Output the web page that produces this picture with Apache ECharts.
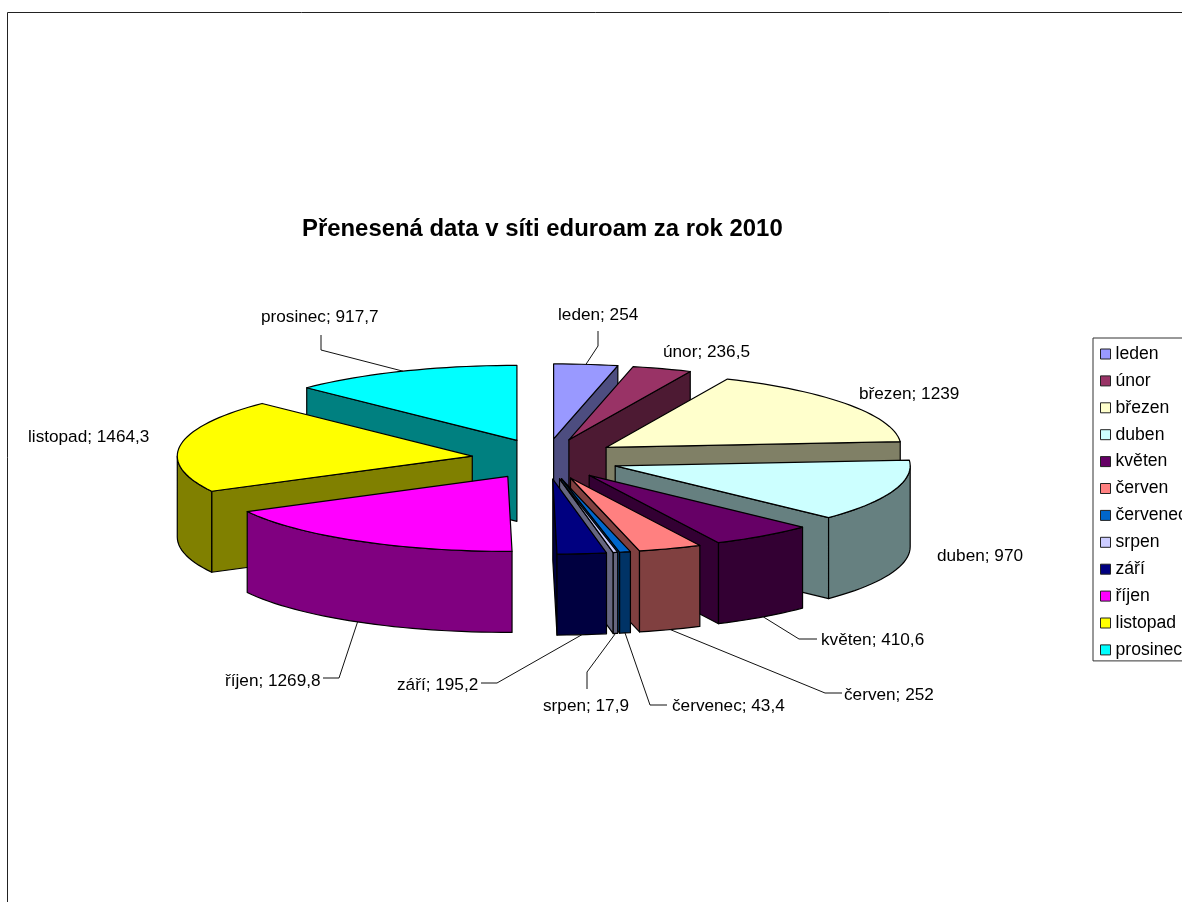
<!DOCTYPE html>
<html><head><meta charset="utf-8">
<style>html,body{margin:0;padding:0;background:#fff;overflow:hidden}#c{width:1182px;height:902px}</style>
<script src="https://cdn.jsdelivr.net/npm/echarts@6/dist/echarts.min.js"></script>
</head><body><div id="c"></div>
<script>
const months = ['leden','únor','březen','duben','květen','červen','červenec','srpen','září','říjen','listopad','prosinec'];
const values = [254,236.5,1239,970,410.6,252,43.4,17.9,195.2,1269.8,1464.3,917.7];
const valueTexts = ['254','236,5','1239','970','410,6','252','43,4','17,9','195,2','1269,8','1464,3','917,7'];
const topColors = ['#9999FF','#993366','#FFFFCC','#CCFFFF','#660066','#FF8080','#0066CC','#CCCCFF','#000080','#FF00FF','#FFFF00','#00FFFF'];
const sideColors = ['#4D4D80','#4D1A33','#808066','#668080','#330033','#804040','#003366','#666680','#000040','#800080','#808000','#008080'];
// label placement: text left/vertical centre, and leader elbow points (null = no leader)
const labelAt = [[558,315],[663,352],[859,394],[937,556],[821,640],[844,695],[672,706],[543,706],[397,685],[225,681],[28,437],[261,317]];
const leaderVia = [[[598,346],[598,331]],null,null,null,[[799,639],[817,639]],[[825,693],[842,693]],[[650,705],[667,705]],[[587,672],[587,689]],[[497,683],[481,683]],[[339,678],[323,678]],null,[[321,350],[321,335]]];

const CX=545.5, CY=459, RX=295, RY=75, H=81, EXPLODE=74, EXPLODE_Y=20.2;
const total = values.reduce((a,b)=>a+b,0);
const rad = d=>d*Math.PI/180;
let cum=0;
const slices = values.map((v,i)=>{
  const a0=cum/total*360; cum+=v; const a1=cum/total*360; const mid=(a0+a1)/2;
  return {i,a0,a1,mid,ax:CX+EXPLODE*Math.sin(rad(mid)),ay:CY-EXPLODE_Y*Math.cos(rad(mid))};
});
const rim=(s,a,dy=0)=>[s.ax+RX*Math.sin(rad(a)),s.ay-RY*Math.cos(rad(a))+dy];
const arcPts=(s,a0,a1,dy=0)=>{const n=Math.max(2,Math.ceil((a1-a0)/2));const p=[];for(let k=0;k<=n;k++)p.push(rim(s,a0+(a1-a0)*k/n,dy));return p;};
const LW=1.2;
function renderSlice(s){
  return function(params,api){
    const kids=[]; const side={fill:sideColors[s.i],stroke:'#000',lineWidth:LW,lineJoin:'round'};
    const A=[s.ax,s.ay],B=[s.ax,s.ay+H];
    const face=(a)=>{const p=rim(s,a),q=rim(s,a,H);kids.push({type:'polygon',shape:{points:[A,p,q,B]},style:side});};
    if(s.a0>180&&s.a0<360)face(s.a0);
    if(s.a1>0&&s.a1<180)face(s.a1);
    const f0=Math.max(s.a0,90),f1=Math.min(s.a1,270);
    if(f1>f0){const up=arcPts(s,f0,f1),lo=arcPts(s,f0,f1,H).reverse();kids.push({type:'polygon',shape:{points:up.concat(lo)},style:side});}
    kids.push({type:'polygon',shape:{points:[A].concat(arcPts(s,s.a0,s.a1))},style:{fill:topColors[s.i],stroke:'#000',lineWidth:LW,lineJoin:'round'}});
    return {type:'group',children:kids};
  };
}
function renderLabel(s){
  return function(){
    const kids=[]; const via=leaderVia[s.i];
    if(via){const front=s.mid>90&&s.mid<270;kids.push({type:'polyline',shape:{points:[rim(s,s.mid,front?H:0)].concat(via)},style:{fill:null,stroke:'#111',lineWidth:1}});}
    kids.push({type:'text',x:labelAt[s.i][0],y:labelAt[s.i][1],style:{text:months[s.i]+'; '+valueTexts[s.i],fill:'#000',font:'17.2px "Liberation Sans", Arial, sans-serif',textAlign:'left',textVerticalAlign:'middle'}});
    return {type:'group',children:kids};
  };
}
const order=slices.slice().sort((p,q)=>Math.cos(rad(q.mid))-Math.cos(rad(p.mid)));
const series=order.map(s=>({type:'custom',name:months[s.i],coordinateSystem:'none',silent:true,animation:false,z:2,clip:false,itemStyle:{color:topColors[s.i]},data:[values[s.i]],renderItem:renderSlice(s)}));
series.push({type:'custom',name:'labels',coordinateSystem:'none',silent:true,animation:false,z:3,data:values,renderItem:(p,api)=>renderLabel(slices[p.dataIndex])(p,api)});
const chart=echarts.init(document.getElementById('c'),null,{renderer:'canvas'});
chart.setOption({
  animation:false,backgroundColor:'#fff',
  title:{text:'Přenesená data v síti eduroam za rok 2010',left:302,top:217,padding:0,textStyle:{fontFamily:'"Liberation Sans", Arial, sans-serif',fontWeight:'bold',fontSize:23.9,color:'#000'}},
  legend:{data:months,orient:'vertical',left:1093,top:338,padding:[7,30,2,7],itemWidth:10,itemHeight:10,itemGap:8.9,borderColor:'#333',borderWidth:1,icon:'rect',selectedMode:false,
    itemStyle:{borderColor:'#222',borderWidth:1},textStyle:{fontFamily:'"Liberation Sans", Arial, sans-serif',fontSize:17.6,color:'#000',padding:[0,0,0,0],lineHeight:17}},
  graphic:[{type:'rect',shape:{x:7.5,y:12.5,width:1400,height:1200},style:{fill:null,stroke:'#222',lineWidth:1},silent:true,z:0}],
  series
});
</script></body></html>
